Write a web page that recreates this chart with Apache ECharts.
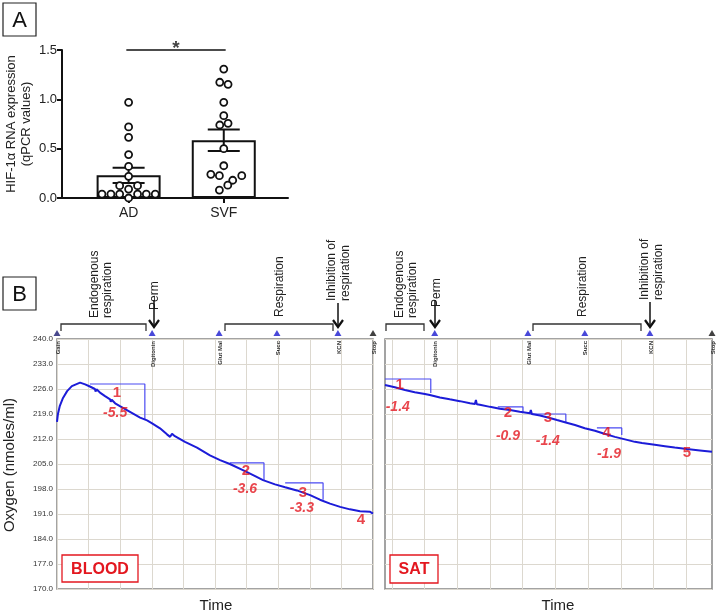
<!DOCTYPE html>
<html><head><meta charset="utf-8">
<script src="https://cdn.jsdelivr.net/npm/echarts@6/dist/echarts.min.js"></script>
<style>html,body{margin:0;padding:0;background:#fff}#c{width:720px;height:613px}</style>
</head><body><div id="c"></div>
<script>
// ---------- Panel A data ----------
const groups = ['AD', 'SVF'];
const groupPos = [1, 2];
const barMeans = [0.23, 0.585];
const barSem = [0.077, 0.108];
const adValues  = [0.97, 0.72, 0.615, 0.44, 0.32, 0.22, 0.125, 0.09, 0.125, 0.04, 0.04, 0.04, 0.04, 0.04, 0.04, 0.0];
const adOffsets = [0, 0, 0, 0, 0, 0, -0.094, 0, 0.094, -0.28, -0.186, -0.094, 0.094, 0.186, 0.28, 0];
const svfValues  = [1.307, 1.173, 1.152, 0.97, 0.834, 0.74, 0.757, 0.50, 0.327, 0.24, 0.226, 0.226, 0.18, 0.13, 0.08];
const svfOffsets = [0, -0.042, 0.045, 0, 0, -0.042, 0.045, 0, 0, -0.136, -0.046, 0.189, 0.094, 0.042, -0.046];
const sigSpan = [0.976, 2.02];
const sigLevel = 1.5;
const sigText = '*';

// ---------- Panel B data ----------
const bloodTime = [0, 0.03, 0.09, 0.19, 0.32, 0.47, 0.6, 0.73, 0.89, 1.04, 1.2, 1.22, 1.25, 1.36, 1.52, 1.68, 1.7, 1.73, 1.84, 1.99, 2.31, 2.63, 2.85, 3.01, 3.26, 3.48, 3.58, 3.64, 3.73, 4.05, 4.43, 4.84, 5.16, 5.47, 5.95, 6.27, 6.52, 6.9, 7.22, 7.59, 8.01, 8.32, 8.64, 8.96, 9.27, 9.59, 9.75, 9.91, 10];
const bloodO2   = [216.8, 219.0, 221.3, 223.5, 225.4, 226.8, 227.3, 227.8, 227.3, 226.7, 226.0, 225.3, 225.9, 225.0, 224.0, 223.1, 222.4, 223.0, 222.0, 221.2, 219.6, 218.0, 217.2, 216.4, 215.0, 213.3, 212.6, 213.5, 212.8, 211.2, 209.6, 207.4, 206.1, 205.0, 203.0, 201.6, 200.5, 199.3, 198.5, 197.6, 196.3, 195.0, 193.9, 193.0, 192.3, 191.8, 191.7, 191.6, 191.1];
const satTime = [-0.21, 0.09, 0.4, 0.7, 1.01, 1.16, 1.47, 1.77, 2.08, 2.39, 2.54, 2.57, 2.6, 2.69, 3.0, 3.3, 3.61, 3.91, 4.22, 4.25, 4.28, 4.53, 4.83, 5.05, 5.29, 5.6, 5.9, 6.21, 6.45, 6.82, 7.13, 7.43, 7.65, 7.68, 7.71, 8.04, 8.35, 8.65, 9.02, 9.42, 9.79];
const satO2   = [227.1, 226.5, 225.7, 225.1, 224.6, 224.3, 223.6, 223.1, 222.6, 222.0, 221.8, 222.9, 221.7, 221.6, 221.0, 220.5, 220.1, 219.6, 219.2, 220.1, 219.0, 218.6, 217.9, 217.3, 216.7, 215.9, 215.0, 214.3, 213.6, 212.6, 211.9, 211.2, 210.9, 210.4, 210.8, 210.4, 210.0, 209.6, 209.2, 208.8, 208.4];

const oxygenTicks = [170, 177, 184, 191, 198, 205, 212, 219, 226, 233, 240];
const satGridTimes = [0, 1, 2, 3, 4, 5, 6, 7, 8, 9];

// rate-measurement boxes
const bloodBoxStart = [1.04, 5.47, 7.22];
const bloodBoxEnd   = [2.78, 6.55, 8.42];
const bloodBoxTop   = [227.4, 205.3, 199.7];
const bloodBoxBot   = [217.6, 200.5, 195.0];
const satBoxStart = [-0.21, 3.24, 4.22, 6.27];
const satBoxEnd   = [1.19, 4.01, 5.32, 7.03];
const satBoxTop   = [228.8, 221.0, 219.0, 215.1];
const satBoxBot   = [224.9, 219.6, 216.5, 213.1];

// segment ids and rates
const bloodIds = ['1', '2', '3', '4'];
const bloodIdTime = [1.9, 5.98, 7.78, 9.62];
const bloodIdO2 = [224.9, 203.0, 196.9, 189.3];
const bloodRates = ['-5.5', '-3.6', '-3.3'];
const bloodRateTime = [1.84, 5.95, 7.75];
const bloodRateO2 = [219.3, 198.0, 192.7];
const satIds = ['1', '2', '3', '4', '5'];
const satIdTime = [0.24, 3.55, 4.77, 6.57, 9.02];
const satIdO2 = [227.1, 219.3, 217.8, 213.8, 208.2];
const satRates = ['-1.4', '-0.9', '-1.4', '-1.9'];
const satRateTime = [0.18, 3.55, 4.77, 6.64];
const satRateO2 = [221.0, 212.8, 211.5, 207.8];

// injection events
const bloodEvents = ['Gain', 'Digitonin', 'Glut Mal', 'Succ', 'KCN'];
const bloodEventTime = [0, 3.01, 5.13, 6.96, 8.89];
const bloodStopTime = 10;
const satEvents = ['Digitonin', 'Glut Mal', 'Succ', 'KCN'];
const satEventTime = [1.31, 4.16, 5.9, 7.89];
const satStopTime = 9.79;
const eventLevel = 241.7;

const FONT = 'Liberation Sans, Arial, sans-serif';
const RED = '#e3171f';
const BLUE = '#1c1cd8';
const BOXBLUE = '#4a4af2';
const GRIDC = '#dcd8cf';

function boxData(s, e, t, b) {
  const out = [];
  for (let i = 0; i < s.length; i++) {
    if (i > 0) out.push(['-', '-']);
    out.push([s[i], t[i]], [e[i], t[i]], [e[i], b[i]]);
  }
  return out;
}
function zip(xs, ys, names) {
  return xs.map((x, i) => ({ value: [x, ys[i]], name: names ? names[i] : '' }));
}

const chart = echarts.init(document.getElementById('c'), null, { renderer: 'canvas' });

const bAxisY = (showLabels) => ({
  type: 'value', min: 170, max: 240, interval: 7,
  axisLine: { show: false }, axisTick: { show: false },
  axisLabel: { show: showLabels, formatter: v => v.toFixed(1), fontSize: 8, color: '#333', fontFamily: FONT, margin: 4 },
  splitLine: { show: true, lineStyle: { color: GRIDC, width: 1 } }
});

const option = {
  animation: false,
  backgroundColor: '#fff',
  grid: [
    { left: 62, top: 50, width: 226, height: 148 },
    { left: 57, top: 339, width: 316, height: 250, show: true, borderColor: '#858585', borderWidth: 1.5 },
    { left: 385, top: 339, width: 327, height: 250, show: true, borderColor: '#858585', borderWidth: 1.5 }
  ],
  xAxis: [
    {
      gridIndex: 0, type: 'value', min: 0.3, max: 2.675,
      axisLine: { show: true, lineStyle: { color: '#111', width: 2 } },
      axisTick: { show: true, customValues: groupPos, length: 5, lineStyle: { color: '#111', width: 2 } },
      axisLabel: { show: true, customValues: groupPos, formatter: v => groups[groupPos.indexOf(v)] || '', fontSize: 14, color: '#222', fontFamily: FONT, margin: 8 },
      splitLine: { show: false }
    },
    {
      gridIndex: 1, type: 'value', min: 0, max: 10, interval: 1,
      axisLine: { show: false }, axisTick: { show: false }, axisLabel: { show: false },
      splitLine: { show: true, lineStyle: { color: GRIDC, width: 1 } }
    },
    {
      gridIndex: 2, type: 'value', min: -0.21, max: 9.79,
      axisLine: { show: false },
      axisTick: { show: false, customValues: satGridTimes },
      axisLabel: { show: false, customValues: satGridTimes },
      splitLine: { show: true, lineStyle: { color: GRIDC, width: 1 } }
    }
  ],
  yAxis: [
    {
      gridIndex: 0, type: 'value', min: 0, max: 1.5, interval: 0.5,
      axisLine: { show: true, lineStyle: { color: '#111', width: 2 } },
      axisTick: { show: true, length: 5, lineStyle: { color: '#111', width: 2 } },
      axisLabel: { formatter: v => v.toFixed(1), fontSize: 13, color: '#222', fontFamily: FONT, margin: 5 },
      splitLine: { show: false }
    },
    Object.assign({ gridIndex: 1 }, bAxisY(true)),
    Object.assign({ gridIndex: 2 }, bAxisY(false))
  ],
  series: [
    // ---- Panel A ----
    {
      type: 'bar', xAxisIndex: 0, yAxisIndex: 0, barWidth: 64, z: 2,
      data: groupPos.map((p, i) => [p, barMeans[i]]),
      itemStyle: { color: '#fff', borderColor: '#111', borderWidth: 2 }
    },
    {
      type: 'custom', xAxisIndex: 0, yAxisIndex: 0, z: 3,
      data: groupPos.map((p, i) => [p, barMeans[i], barSem[i]]),
      renderItem: (params, api) => {
        const x = api.value(0), m = api.value(1), s = api.value(2);
        const t = api.coord([x, m + s]), b = api.coord([x, m - s]);
        const half = 16;
        const st = { stroke: '#111', lineWidth: 2 };
        return { type: 'group', children: [
          { type: 'line', shape: { x1: t[0], y1: t[1], x2: b[0], y2: b[1] }, style: st },
          { type: 'line', shape: { x1: t[0] - half, y1: t[1], x2: t[0] + half, y2: t[1] }, style: st },
          { type: 'line', shape: { x1: b[0] - half, y1: b[1], x2: b[0] + half, y2: b[1] }, style: st }
        ] };
      }
    },
    {
      type: 'scatter', xAxisIndex: 0, yAxisIndex: 0, z: 4, symbol: 'circle', symbolSize: 7, clip: false,
      data: adValues.map((v, i) => [groupPos[0] + adOffsets[i], v]).concat(svfValues.map((v, i) => [groupPos[1] + svfOffsets[i], v])),
      itemStyle: { color: '#fff', borderColor: '#111', borderWidth: 1.8, opacity: 1 }
    },
    {
      type: 'line', xAxisIndex: 0, yAxisIndex: 0, symbol: 'none', clip: false,
      data: [[sigSpan[0], sigLevel], [sigSpan[1], sigLevel]],
      lineStyle: { color: '#111', width: 1.5 }
    },
    {
      type: 'scatter', xAxisIndex: 0, yAxisIndex: 0, symbolSize: 1, clip: false,
      itemStyle: { color: 'transparent' },
      data: [[(sigSpan[0] + sigSpan[1]) / 2, sigLevel]],
      label: { show: true, formatter: sigText, position: 'top', distance: -9, fontSize: 19, fontWeight: 'bold', color: '#111', fontFamily: FONT }
    },
    // ---- Panel B : BLOOD ----
    {
      type: 'line', xAxisIndex: 1, yAxisIndex: 1, symbol: 'none', z: 5,
      data: bloodTime.map((t, i) => [t, bloodO2[i]]),
      lineStyle: { color: BLUE, width: 2 }
    },
    {
      type: 'line', xAxisIndex: 1, yAxisIndex: 1, symbol: 'none', z: 4, connectNulls: false,
      data: boxData(bloodBoxStart, bloodBoxEnd, bloodBoxTop, bloodBoxBot),
      lineStyle: { color: BOXBLUE, width: 1.2 }
    },
    {
      type: 'scatter', xAxisIndex: 1, yAxisIndex: 1, symbolSize: 1, z: 6, itemStyle: { color: 'transparent' },
      data: zip(bloodIdTime, bloodIdO2, bloodIds),
      label: { show: true, position: 'inside', formatter: p => p.name, fontSize: 15, fontWeight: 'bold', color: RED, fontFamily: FONT }
    },
    {
      type: 'scatter', xAxisIndex: 1, yAxisIndex: 1, symbolSize: 1, z: 6, itemStyle: { color: 'transparent' },
      data: zip(bloodRateTime, bloodRateO2, bloodRates),
      label: { show: true, position: 'inside', formatter: p => p.name, fontSize: 14, fontWeight: 'bold', fontStyle: 'italic', color: RED, fontFamily: FONT }
    },
    {
      type: 'scatter', xAxisIndex: 1, yAxisIndex: 1, symbol: 'triangle', symbolSize: [7, 6], clip: false, z: 6,
      data: bloodEventTime.map((t, i) => ({ value: [t, eventLevel], itemStyle: { color: i === 0 ? '#1a1a70' : '#1a1ad0' } }))
    },
    {
      type: 'scatter', xAxisIndex: 1, yAxisIndex: 1, symbol: 'triangle', symbolSize: [7, 6], clip: false, z: 6,
      data: [[bloodStopTime, eventLevel]], itemStyle: { color: '#111' }
    },
    // ---- Panel B : SAT ----
    {
      type: 'line', xAxisIndex: 2, yAxisIndex: 2, symbol: 'none', z: 5,
      data: satTime.map((t, i) => [t, satO2[i]]),
      lineStyle: { color: BLUE, width: 2 }
    },
    {
      type: 'line', xAxisIndex: 2, yAxisIndex: 2, symbol: 'none', z: 4, connectNulls: false,
      data: boxData(satBoxStart, satBoxEnd, satBoxTop, satBoxBot),
      lineStyle: { color: BOXBLUE, width: 1.2 }
    },
    {
      type: 'scatter', xAxisIndex: 2, yAxisIndex: 2, symbolSize: 1, z: 6, itemStyle: { color: 'transparent' },
      data: zip(satIdTime, satIdO2, satIds),
      label: { show: true, position: 'inside', formatter: p => p.name, fontSize: 15, fontWeight: 'bold', color: RED, fontFamily: FONT }
    },
    {
      type: 'scatter', xAxisIndex: 2, yAxisIndex: 2, symbolSize: 1, z: 6, itemStyle: { color: 'transparent' },
      data: zip(satRateTime, satRateO2, satRates),
      label: { show: true, position: 'inside', formatter: p => p.name, fontSize: 14, fontWeight: 'bold', fontStyle: 'italic', color: RED, fontFamily: FONT }
    },
    {
      type: 'scatter', xAxisIndex: 2, yAxisIndex: 2, symbol: 'triangle', symbolSize: [7, 6], clip: false, z: 6,
      data: satEventTime.map(t => [t, eventLevel]), itemStyle: { color: '#1a1ad0' }
    },
    {
      type: 'scatter', xAxisIndex: 2, yAxisIndex: 2, symbol: 'triangle', symbolSize: [7, 6], clip: false, z: 6,
      data: [[satStopTime, eventLevel]], itemStyle: { color: '#111' }
    }
  ]
};
chart.setOption(option);

// ---------- annotations (graphics) ----------
const R90 = Math.PI / 2;
const g = [];
function vtext(x, y, text, size, extra) {
  g.push({ type: 'text', x: x, y: y, rotation: R90, silent: true,
    style: Object.assign({ text: text, fontSize: size, fontFamily: FONT, fill: '#222', align: 'left', verticalAlign: 'middle' }, extra || {}) });
}
function arrow(x, y1, y2) {
  g.push({ type: 'line', shape: { x1: x, y1: y1, x2: x, y2: y2 }, style: { stroke: '#111', lineWidth: 1.5 } });
  g.push({ type: 'polyline', shape: { points: [[x - 5, y2 - 7], [x, y2], [x + 5, y2 - 7]] }, style: { stroke: '#111', lineWidth: 2.2, fill: null } });
}
function bracket(x1, x2, y) {
  g.push({ type: 'polyline', shape: { points: [[x1, y + 7], [x1, y], [x2, y], [x2, y + 7]] }, style: { stroke: '#333', lineWidth: 1.3, fill: null } });
}
function labelBox(x, y, w, h, text) {
  g.push({ type: 'rect', shape: { x: x, y: y, width: w, height: h }, style: { stroke: RED, lineWidth: 1.3, fill: '#fff' }, z: 10 });
  g.push({ type: 'text', x: x + w / 2, y: y + h / 2 + 1, z: 11, style: { text: text, fontSize: 16, fontWeight: 'bold', fontFamily: FONT, fill: RED, align: 'center', verticalAlign: 'middle' } });
}
function panelBox(x, y, text) {
  g.push({ type: 'rect', shape: { x: x, y: y, width: 33, height: 33 }, style: { stroke: '#222', lineWidth: 1.2, fill: '#fff' } });
  g.push({ type: 'text', x: x + 16.5, y: y + 17.5, style: { text: text, fontSize: 22, fontFamily: FONT, fill: '#111', align: 'center', verticalAlign: 'middle' } });
}

panelBox(3, 3, 'A');
panelBox(3, 277, 'B');

// Panel A y title
vtext(19, 124, 'HIF-1\u03b1 RNA expression\n(qPCR values)', 13, { align: 'center', lineHeight: 15 });

// Panel B y title and x titles
vtext(10, 465, 'Oxygen (nmoles/ml)', 15, { align: 'center' });
g.push({ type: 'text', x: 216, y: 606, style: { text: 'Time', fontSize: 15, fontFamily: FONT, fill: '#222', align: 'center', verticalAlign: 'middle' } });
g.push({ type: 'text', x: 558, y: 606, style: { text: 'Time', fontSize: 15, fontFamily: FONT, fill: '#222', align: 'center', verticalAlign: 'middle' } });

// BLOOD annotations
vtext(101.5, 318, 'Endogenous\nrespiration', 12, { lineHeight: 13 });
vtext(155, 310, 'Perm', 12);
vtext(280, 317, 'Respiration', 12);
vtext(339, 301, 'Inhibition of\nrespiration', 12, { lineHeight: 14 });
arrow(154, 300, 327);
arrow(338, 303, 327);
bracket(61, 146, 324);
bracket(225, 333, 324);

// SAT annotations
vtext(406.5, 318, 'Endogenous\nrespiration', 12, { lineHeight: 13 });
vtext(437, 307, 'Perm', 12);
vtext(583, 317, 'Respiration', 12);
vtext(651.5, 300, 'Inhibition of\nrespiration', 12, { lineHeight: 14 });
arrow(435, 300, 327);
arrow(650, 302, 327);
bracket(386, 424, 324);
bracket(533, 641, 324);

// event names under the top edge
function eventLabels(gridIdx, times, names) {
  times.forEach((t, i) => {
    const p = chart.convertToPixel({ xAxisIndex: gridIdx, yAxisIndex: gridIdx }, [t, 240]);
    vtext(p[0] + 1, p[1] + 2, names[i], 6, { align: 'right', fill: '#333', fontWeight: 'bold' });
  });
}
eventLabels(1, bloodEventTime.concat([bloodStopTime]), bloodEvents.concat(['Stop']));
eventLabels(2, satEventTime.concat([satStopTime]), satEvents.concat(['Stop']));

labelBox(62, 555, 76, 27, 'BLOOD');
labelBox(390, 555, 48, 28, 'SAT');

chart.setOption({ graphic: g });
</script></body></html>
